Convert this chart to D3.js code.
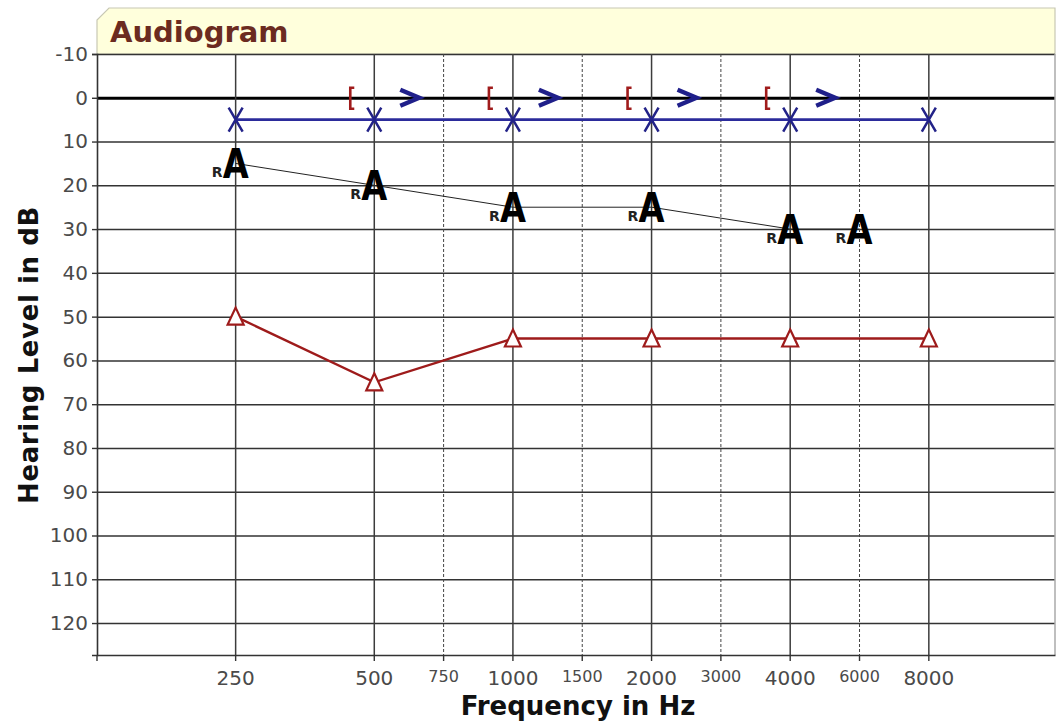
<!DOCTYPE html>
<html>
<head>
<meta charset="utf-8">
<script src="https://cdn.jsdelivr.net/npm/d3@7"></script>
<style>
  body { margin: 0; background: #fff; }
  text { font-family: "DejaVu Sans", Verdana, sans-serif; }
</style>
</head>
<body>
<svg id="audio" width="1059" height="722"></svg>
<script>
// ---- datos del audiograma ----
const frecMayores = [250, 500, 1000, 2000, 4000, 8000]
const frecMenores = [750, 1500, 3000, 6000]
const nivelesY = [-10, 0, 10, 20, 30, 40, 50, 60, 70, 80, 90, 100, 110, 120]

// X azul (aire izquierdo)
const frecX = [250, 500, 1000, 2000, 4000, 8000]
const valX = [5, 5, 5, 5, 5, 5]
// A con R (campo libre)
const frecA = [250, 500, 1000, 2000, 4000, 6000]
const valA = [15, 20, 25, 25, 30, 30]
// triangulos rojos
const frecTri = [250, 500, 1000, 2000, 4000, 8000]
const valTri = [50, 65, 55, 55, 55, 55]
// corchete rojo y flecha azul (oseo)
const frecOseo = [500, 1000, 2000, 4000]
const valCorchete = [0, 0, 0, 0]
const valFlecha = [0, 0, 0, 0]

const margen = { izq: 97, sup: 54, der: 4, inf: 67 }
const ancho = 1059 - margen.izq - margen.der
const alto = 722 - margen.sup - margen.inf

const svg = d3.select('#audio')

// caja del titulo con esquina cortada
svg.append('path')
  .attr('d', `M${margen.izq},${margen.sup} V20 L${margen.izq + 12},8 H${margen.izq + ancho} V${margen.sup} Z`)
  .attr('fill', '#ffffdc')
  .attr('stroke', '#c8c8b4')
  .attr('stroke-width', 1.2)
svg.append('text')
  .attr('x', margen.izq + 13).attr('y', 42)
  .attr('font-size', '29px').attr('font-weight', 'bold')
  .attr('fill', '#6b2b20')
  .text('Audiogram')

const g = svg.append('g').attr('transform', `translate(${margen.izq}, ${margen.sup})`)

// escalas: eje x por octavas (medias octavas para 750, 1500...)
const octava = f => Math.round(Math.log2(f / 125) * 2) / 2
const x = d3.scaleLinear().domain([0, 6.91]).range([0, ancho])
const px = f => x(octava(f))
const y = d3.scaleLinear().domain([-10, 127.3]).range([0, alto])

// rejilla horizontal
g.append('g')
  .call(d3.axisLeft(y).tickValues(nivelesY).tickSize(-ancho).tickFormat(''))
  .call(s => s.select('.domain').remove())
  .selectAll('line')
  .attr('stroke', d => d === 0 ? '#000' : '#333')
  .attr('stroke-width', d => d === 0 ? 2.8 : 1.5)

// rejilla vertical
g.append('g')
  .selectAll('line.mayor').data(frecMayores).join('line')
  .attr('x1', d => px(d)).attr('x2', d => px(d))
  .attr('y1', 0).attr('y2', alto)
  .attr('stroke', '#3c3c3c').attr('stroke-width', 1.5)
g.append('g')
  .selectAll('line.menor').data(frecMenores).join('line')
  .attr('x1', d => px(d)).attr('x2', d => px(d))
  .attr('y1', 0).attr('y2', alto)
  .attr('stroke', '#444').attr('stroke-width', 1)
  .attr('stroke-dasharray', '3,2')

// borde derecho
g.append('line')
  .attr('x1', ancho).attr('x2', ancho).attr('y1', 0).attr('y2', alto)
  .attr('stroke', '#aaa').attr('stroke-width', 1.5)

// eje Y
const ejeY = g.append('g')
  .call(d3.axisLeft(y).tickValues(nivelesY).tickSize(5).tickPadding(4).tickFormat(d => String(d)))
ejeY.select('.domain').attr('stroke', '#333').attr('stroke-width', 1.6)
ejeY.selectAll('line').attr('stroke', '#333').attr('stroke-width', 1.4)
ejeY.selectAll('text').attr('font-size', '20px').attr('fill', '#4a4a4a')
  .attr('font-family', '"DejaVu Sans", Verdana, sans-serif')

// eje X
const todasFrec = frecMayores.concat(frecMenores).sort((a, b) => a - b)
const ejeX = g.append('g')
  .attr('transform', `translate(0, ${alto})`)
  .call(d3.axisBottom(d3.scaleLinear().domain([0, 1]).range([0, ancho])).tickValues([]).tickSizeOuter(0))
ejeX.select('.domain').attr('stroke', '#333').attr('stroke-width', 1.6)
ejeX.selectAll('line.tic').data([125].concat(todasFrec)).join('line')
  .attr('class', 'tic')
  .attr('x1', d => d === 125 ? 0 : px(d)).attr('x2', d => d === 125 ? 0 : px(d))
  .attr('y1', 0).attr('y2', 6)
  .attr('stroke', '#333').attr('stroke-width', 1.4)
ejeX.selectAll('text.etq').data(todasFrec).join('text')
  .attr('class', 'etq')
  .attr('x', d => px(d))
  .attr('y', d => frecMenores.includes(d) ? 27 : 30)
  .attr('text-anchor', 'middle')
  .attr('font-size', d => frecMenores.includes(d) ? '16px' : '20px')
  .attr('fill', '#4a4a4a')
  .text(d => d)

// titulos de ejes
svg.append('text')
  .attr('x', 578).attr('y', 715)
  .attr('text-anchor', 'middle')
  .attr('font-size', '26px').attr('font-weight', 'bold').attr('fill', '#111')
  .text('Frequency in Hz')
svg.append('text')
  .attr('transform', 'translate(38, 355) rotate(-90)')
  .attr('text-anchor', 'middle')
  .attr('font-size', '26px').attr('font-weight', 'bold').attr('fill', '#111')
  .attr('letter-spacing', '0.6px')
  .text('Hearing Level in dB')

// linea X azul
const linea = d3.line().x(d => px(d[0])).y(d => y(d[1]))
g.append('path')
  .datum(d3.zip(frecX, valX))
  .attr('fill', 'none').attr('stroke', '#2b2b9b').attr('stroke-width', 2.6)
  .attr('d', linea)
g.selectAll('path.equis').data(d3.zip(frecX, valX)).join('path')
  .attr('class', 'equis')
  .attr('transform', d => `translate(${px(d[0])}, ${y(d[1])})`)
  .attr('d', 'M-7,-12 L7,12 M7,-12 L-7,12')
  .attr('stroke', '#222288').attr('stroke-width', 2.5).attr('fill', 'none')

// linea A negra
g.append('path')
  .datum(d3.zip(frecA, valA))
  .attr('fill', 'none').attr('stroke', '#222').attr('stroke-width', 1)
  .attr('d', linea)
const marcaA = g.selectAll('g.aa').data(d3.zip(frecA, valA)).join('g')
  .attr('class', 'aa')
  .attr('transform', d => `translate(${px(d[0])}, ${y(d[1])})`)
marcaA.append('text')
  .attr('transform', 'translate(0, 15) scale(0.82, 1)')
  .attr('text-anchor', 'middle')
  .attr('font-family', '"Liberation Sans", Arial, sans-serif')
  .attr('font-size', '41px').attr('font-weight', 'bold').attr('fill', '#000')
  .text('A')
marcaA.append('text')
  .attr('x', -24).attr('y', 14)
  .attr('font-family', '"Liberation Sans", Arial, sans-serif')
  .attr('font-size', '14px').attr('font-weight', 'bold').attr('fill', '#222')
  .text('R')

// linea de triangulos roja
g.append('path')
  .datum(d3.zip(frecTri, valTri))
  .attr('fill', 'none').attr('stroke', '#9e1b1b').attr('stroke-width', 2.4)
  .attr('d', linea)
g.selectAll('path.tri').data(d3.zip(frecTri, valTri)).join('path')
  .attr('class', 'tri')
  .attr('transform', d => `translate(${px(d[0])}, ${y(d[1])})`)
  .attr('d', 'M0,-9 L8,8 L-8,8 Z')
  .attr('fill', '#fff').attr('stroke', '#9e1b1b').attr('stroke-width', 2.2)

// corchetes rojos
g.selectAll('path.corchete').data(d3.zip(frecOseo, valCorchete)).join('path')
  .attr('class', 'corchete')
  .attr('transform', d => `translate(${px(d[0]) - 24}, ${y(d[1])})`)
  .attr('d', 'M4,-10 H0 V11 H4')
  .attr('fill', 'none').attr('stroke', '#a01c1c').attr('stroke-width', 2.6)

// flechas azules
g.selectAll('path.flecha').data(d3.zip(frecOseo, valFlecha)).join('path')
  .attr('class', 'flecha')
  .attr('transform', d => `translate(${px(d[0]) + 36}, ${y(d[1])})`)
  .attr('d', 'M-10,-8 L9,0 L-10,8')
  .attr('fill', 'none').attr('stroke', '#1f1f8a').attr('stroke-width', 4.4)
  .attr('stroke-linejoin', 'miter')
</script>
</body>
</html>
